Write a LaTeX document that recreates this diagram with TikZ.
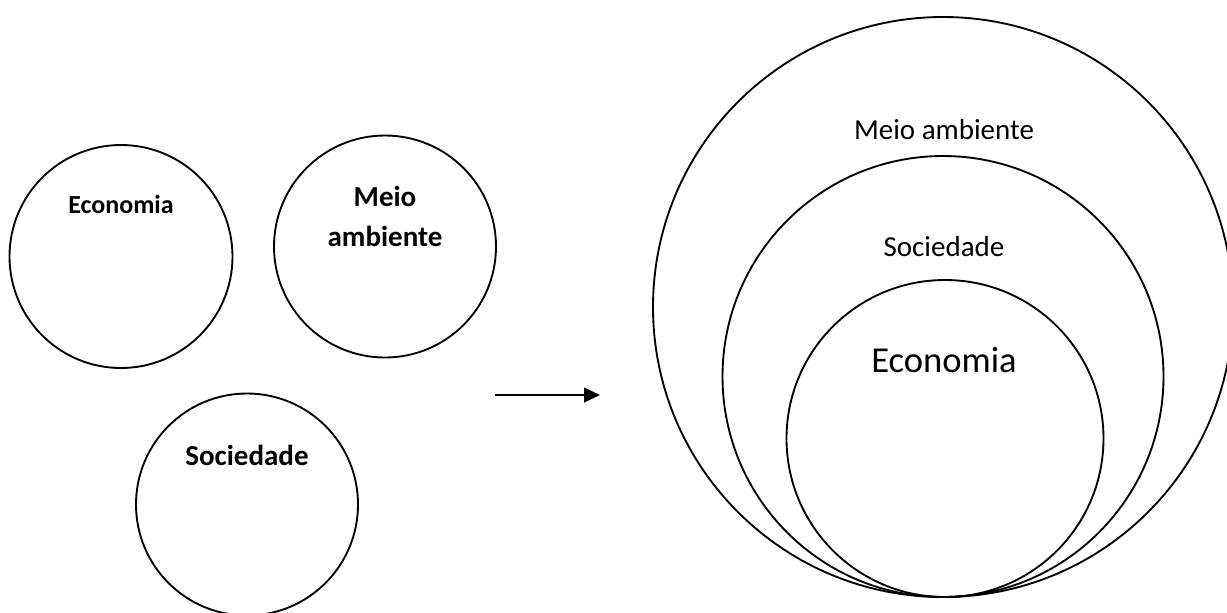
\documentclass[tikz,border=0pt]{standalone}
\usepackage{fontspec}
\setmainfont{Carlito}
\usetikzlibrary{arrows.meta}
\begin{document}
\begin{tikzpicture}[x=0.75pt,y=-0.75pt,
  ring/.style={circle,draw=black,line width=1.4pt,inner sep=0pt},
  lbl/.style={inner sep=0pt,text=black},
  boldlbl/.style={lbl,font=\bfseries\fontsize{21.75}{30}\selectfont,align=center},
  conn/.style={line width=1.5pt,-{Triangle[length=12pt,width=11pt]}}]
\useasboundingbox (0,0) rectangle (1227,612);
\clip (0,0) rectangle (1227,612);
% left circles
\node[ring,minimum size=167.25pt] (ecoL) at (121,256.5) {};
\node[ring,minimum size=166.5pt] (meioL) at (385,246.5) {};
\node[ring,minimum size=166.5pt] (socL) at (247,504.5) {};
\node[lbl,font=\bfseries\fontsize{19.5}{24}\selectfont] (ecoLt) at (121,204) {Economia};
\node[boldlbl] (meioLt) at (385,216.5) {Meio\\ambiente};
\node[boldlbl] (socLt) at (247,455) {Sociedade};
% arrow
\coordinate (arrS) at (495,395);
\coordinate (arrE) at (600,395);
\draw[conn] (arrS) -- (arrE);
% right nested circles
\node[ring,minimum size=435pt] (meioR) at (943,307) {};
\node[ring,minimum size=330.75pt] (socR) at (943,376.5) {};
\node[ring,minimum size=237.75pt] (ecoR) at (945,438.5) {};
\node[lbl,font=\fontsize{21.75}{26}\selectfont] (meioRt) at (944,130) {Meio ambiente};
\node[lbl,font=\fontsize{21.75}{26}\selectfont] (socRt) at (944,247) {Sociedade};
\node[lbl,font=\fontsize{27.4}{32}\selectfont] (ecoRt) at (944,360) {Economia};
\end{tikzpicture}
\end{document}
